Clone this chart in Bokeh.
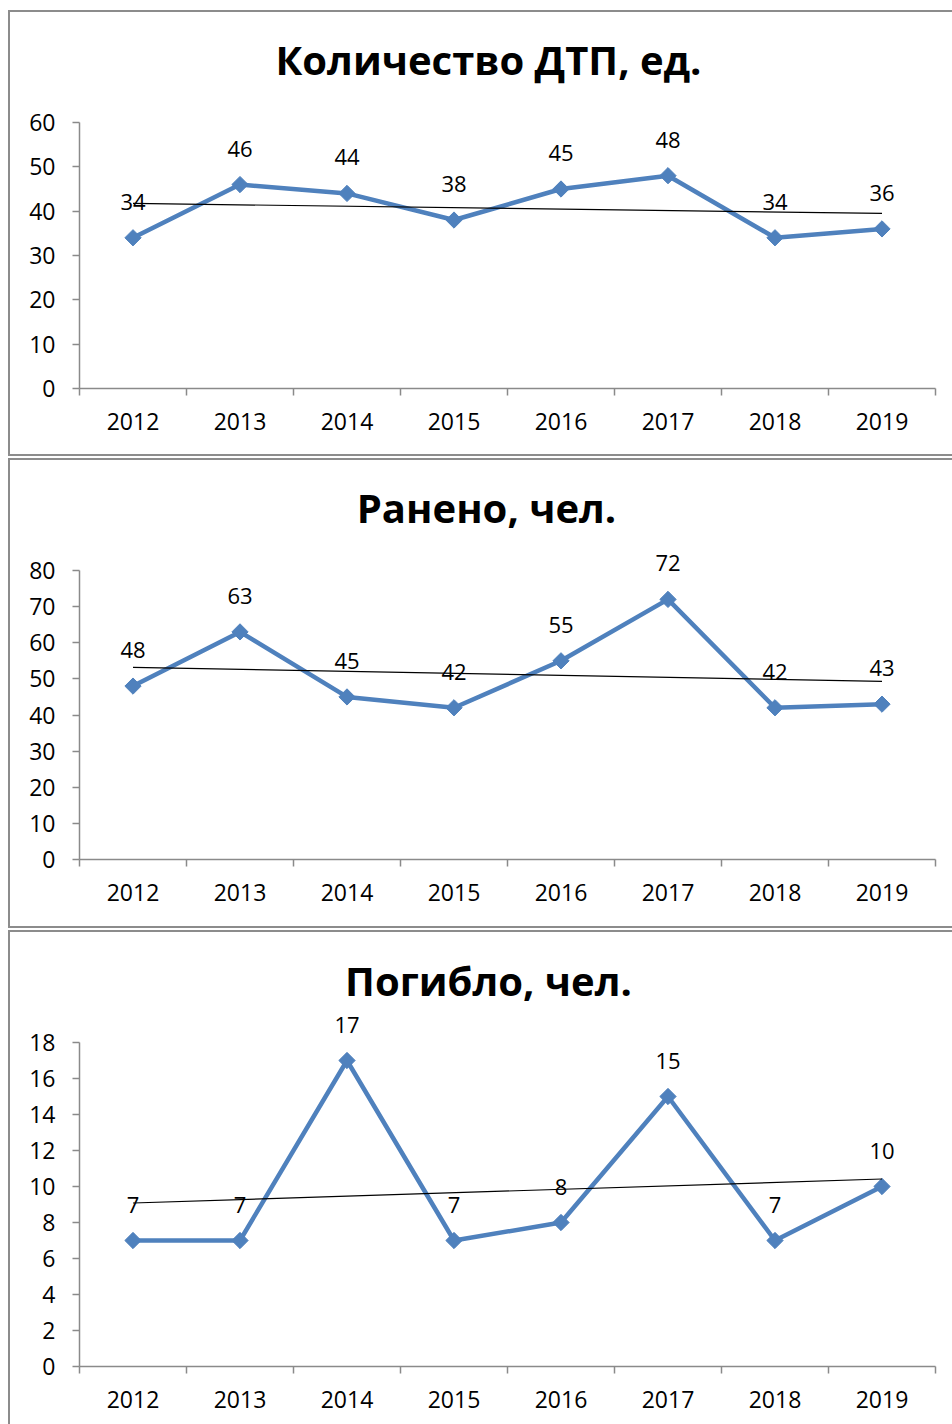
from bokeh.plotting import figure
from bokeh.models import Range1d, FixedTicker, Spacer, Label
from bokeh.layouts import column, row
from bokeh.embed import file_html
from bokeh.resources import INLINE
from bokeh.core.properties import value
import numpy as np

# ---- data ----
years = ["2012", "2013", "2014", "2015", "2016", "2017", "2018", "2019"]
dtp = [34, 46, 44, 38, 45, 48, 34, 36]
injured = [48, 63, 45, 42, 55, 72, 42, 43]
killed = [7, 7, 17, 7, 8, 15, 7, 10]
titles = ["Количество ДТП, ед.", "Ранено, чел.", "Погибло, чел."]
y_max = [60, 80, 18]
y_step = [10, 10, 2]

FONT = "Open Sans"
BLUE = "#4F81BD"
GRAY = "#8a8a8a"
BORDER = "#8c8c8c"
W = 942          # visible canvas width
BW = 2           # border width
TITLE_CX = 476   # title centre, canvas px


def make_chart(title, vals, ymax, ystep, H, top_px, bottom_px, left_px, title_base,
               bottom_border=True):
    T = 2  # frame top (canvas px)
    yend = ymax * (bottom_px - T) / (bottom_px - top_px)
    extra_h = BW * (2 if bottom_border else 1)
    full_w = W + BW
    full_h = H + extra_h
    p = figure(width=full_w, height=full_h,
               x_range=Range1d(0, len(years)), y_range=Range1d(0, yend),
               output_backend="svg", toolbar_location=None,
               min_border_left=left_px, min_border_right=full_w - 925,
               min_border_top=T, min_border_bottom=full_h - bottom_px)
    p.outline_line_color = None
    p.xgrid.visible = False
    p.ygrid.visible = False
    p.background_fill_color = "white"
    p.border_fill_color = "white"

    p.add_layout(Label(x=TITLE_CX - left_px, y=bottom_px - title_base,
                       x_units="screen", y_units="screen", text=title,
                       text_align="center", text_baseline="alphabetic",
                       text_font=FONT, text_font_size="40px", text_font_style="bold",
                       text_color="black"))

    xs = [i + 0.5 for i in range(len(years))]

    # x axis
    xa = p.xaxis[0]
    xa.ticker = FixedTicker(ticks=xs, minor_ticks=list(range(len(years) + 1)))
    xa.major_label_overrides = {x: y for x, y in zip(xs, years)}
    xa.major_tick_out = 0
    xa.major_tick_in = 0
    xa.minor_tick_out = 7
    xa.minor_tick_in = 0
    xa.minor_tick_line_color = GRAY
    xa.minor_tick_line_width = 1.5
    xa.axis_line_color = GRAY
    xa.axis_line_width = 1.5
    xa.major_label_text_font = FONT
    xa.major_label_text_font_size = "23px"
    xa.major_label_text_color = "black"
    xa.major_label_standoff = 17

    # y axis
    ya = p.yaxis[0]
    ya.ticker = FixedTicker(ticks=list(range(0, ymax + 1, ystep)), minor_ticks=[])
    ya.bounds = (0, ymax)
    ya.major_tick_out = 7
    ya.major_tick_in = 0
    ya.minor_tick_out = 0
    ya.minor_tick_in = 0
    ya.major_tick_line_color = GRAY
    ya.major_tick_line_width = 1.5
    ya.axis_line_color = GRAY
    ya.axis_line_width = 1.5
    ya.major_label_text_font = FONT
    ya.major_label_text_font_size = "23px"
    ya.major_label_text_color = "black"
    ya.major_label_standoff = 17

    # series
    p.line(xs, vals, line_color=BLUE, line_width=4.5, line_join="round")
    p.scatter(xs, vals, marker="square", angle=np.pi / 4, size=11.5,
              fill_color=BLUE, line_color=BLUE)

    # linear trendline (Excel style)
    k, b = np.polyfit(np.arange(len(vals)), np.array(vals, dtype=float), 1)
    p.line([xs[0], xs[-1]], [b, b + k * (len(vals) - 1)], line_color="black", line_width=1.2)

    # data labels
    p.text(xs, vals, text=[str(v) for v in vals], y_offset=-36,
           text_align="center", text_baseline="middle",
           text_font=value(FONT), text_font_size="22px", text_color="black")

    st = {"border-left": f"{BW}px solid {BORDER}", "border-top": f"{BW}px solid {BORDER}"}
    if bottom_border:
        st["border-bottom"] = f"{BW}px solid {BORDER}"
    p.styles = st
    return p


f1 = make_chart(titles[0], dtp, y_max[0], y_step[0], 442, 110, 376, 67, 47)
f2 = make_chart(titles[1], injured, y_max[1], y_step[1], 466, 110, 399, 69, 47)
f3 = make_chart(titles[2], killed, y_max[2], y_step[2], 492, 110, 434, 67, 48,
                bottom_border=False)

charts = column(Spacer(width=10, height=8), f1, f2, f3, spacing=2)
layout = row(Spacer(width=8, height=10), charts, spacing=0)

open("out.html", "w").write(file_html(layout, INLINE))
